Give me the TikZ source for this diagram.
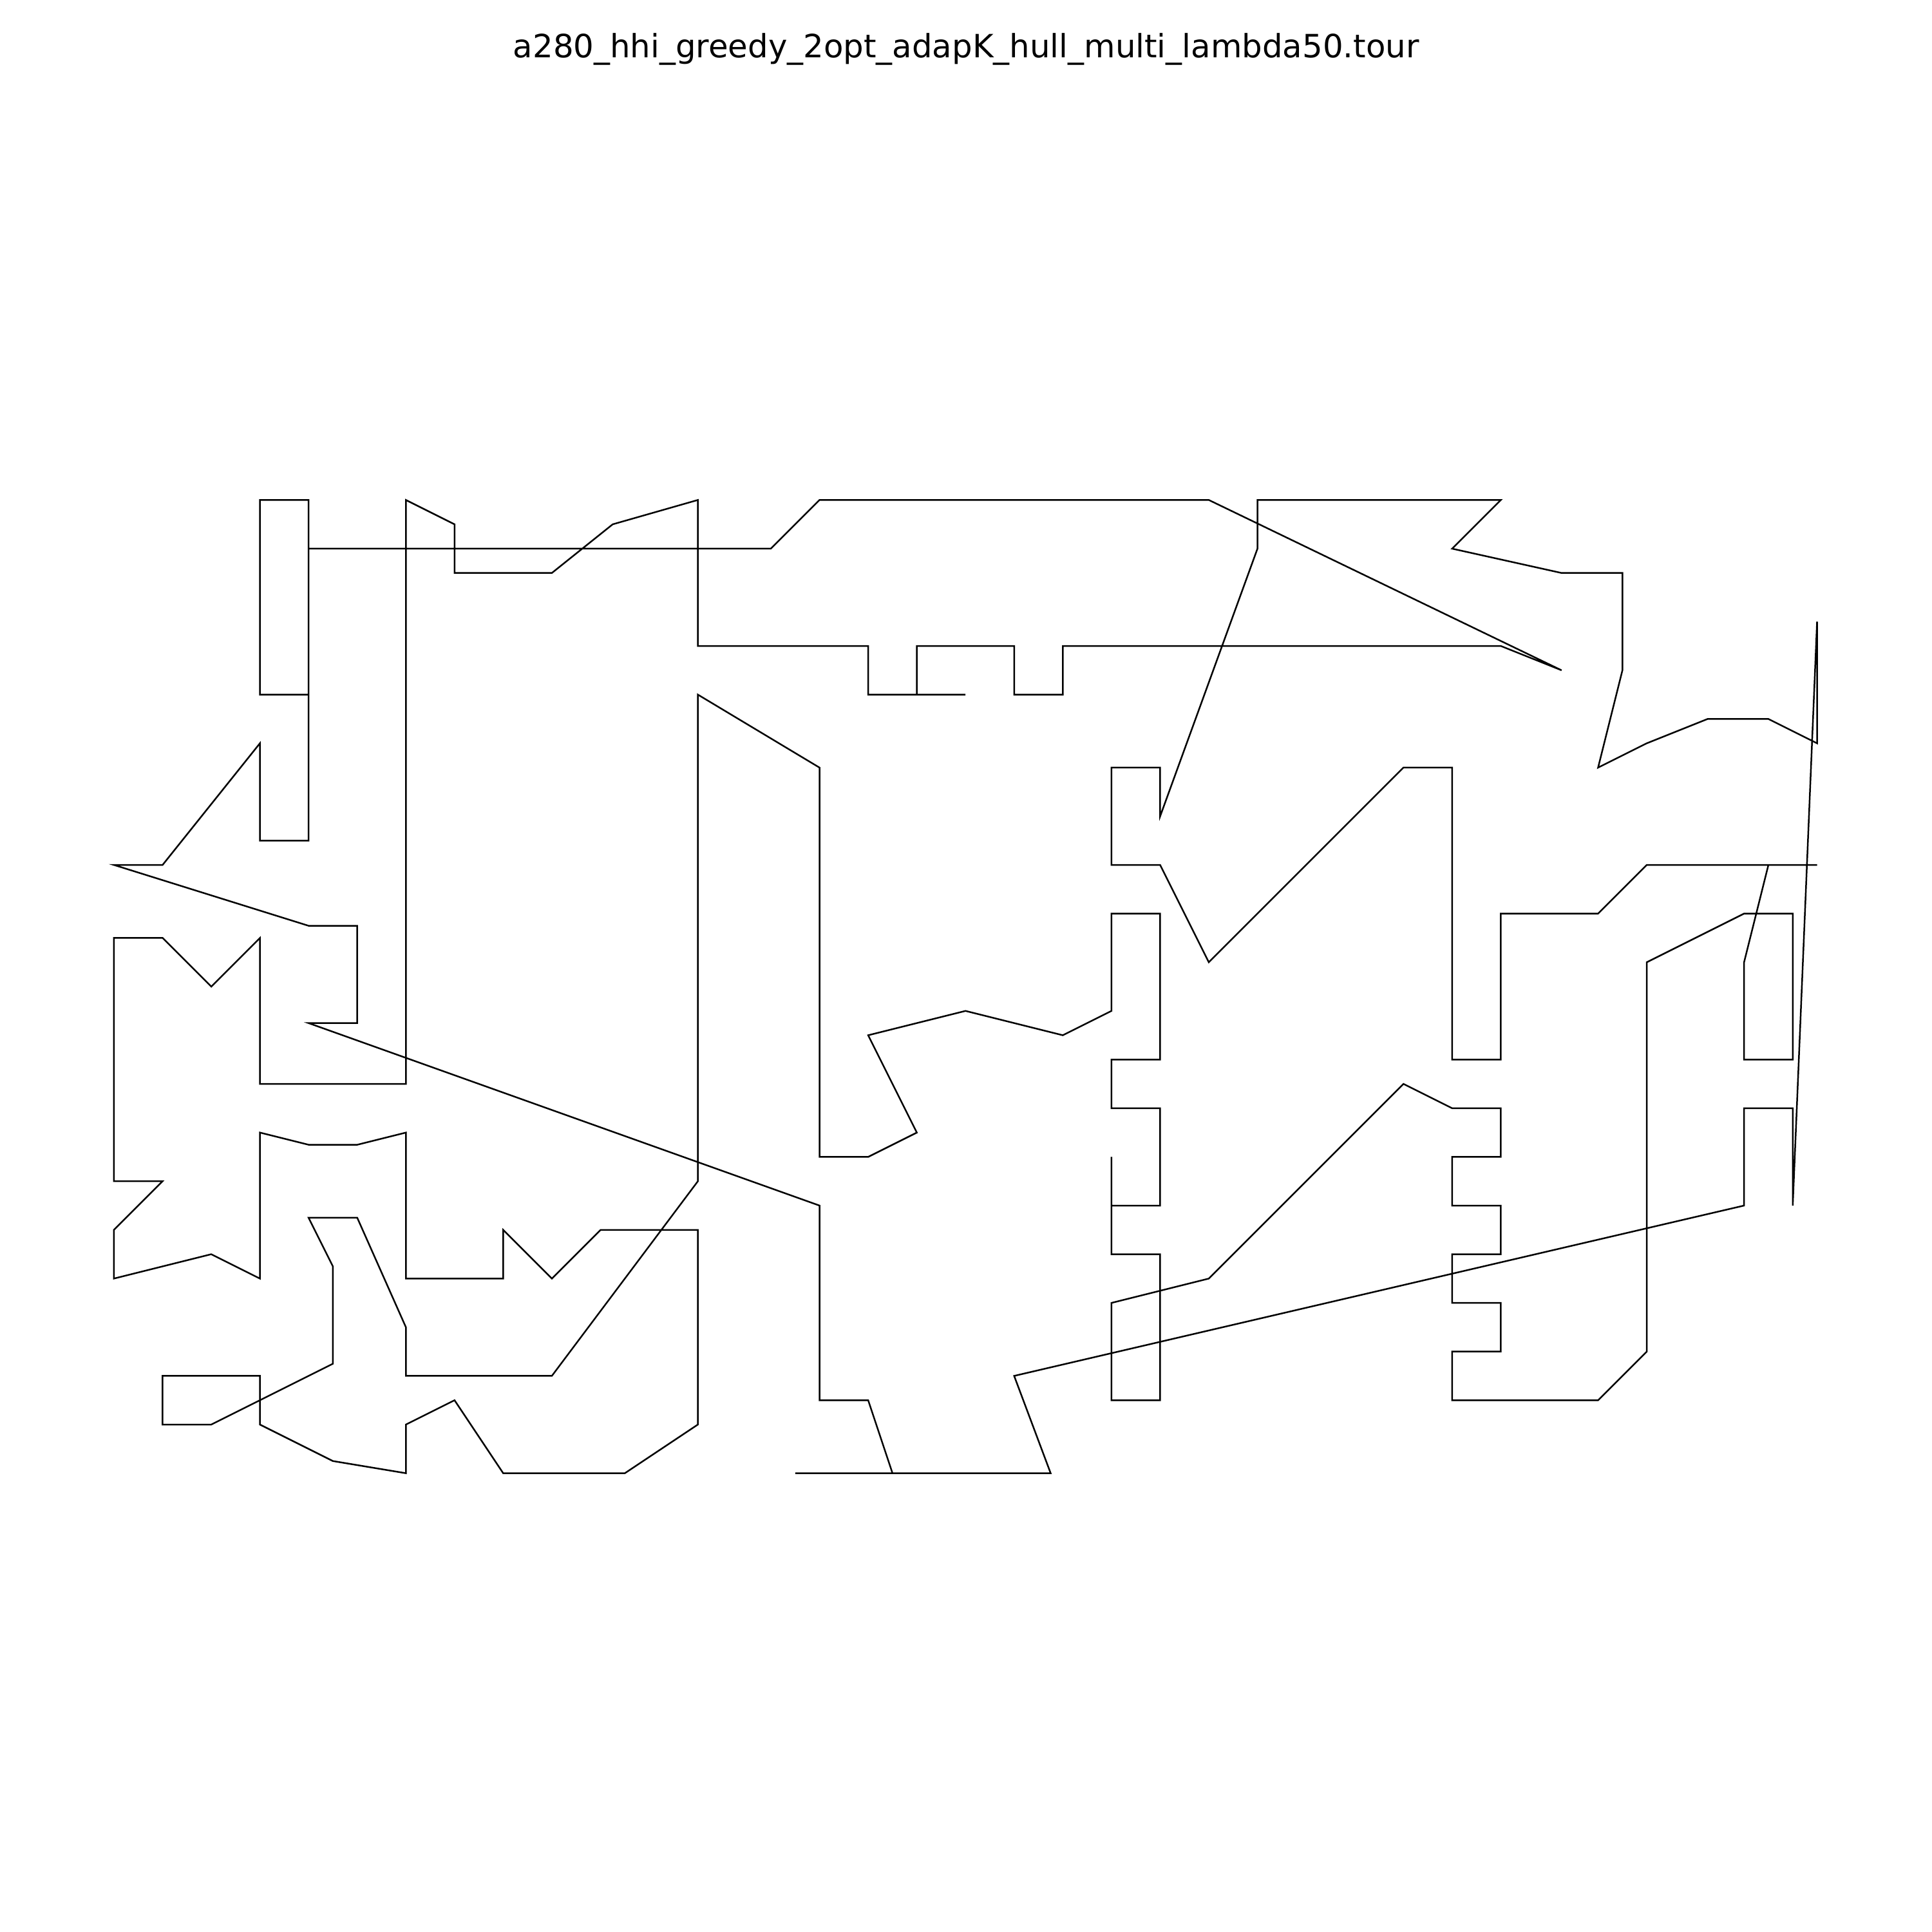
\documentclass[tikz,border=0pt]{standalone}
\usepackage{fontspec}
\setmainfont{DejaVu Sans}
\begin{document}
\begin{tikzpicture}[x=2.2753pt,y=2.2753pt,
  tour/.style={line width=0.6pt, line join=miter, draw=black},
  titletext/.style={anchor=base, inner sep=0pt, font=\fontsize{12}{14}\selectfont}]
\useasboundingbox (-10.73,-66.4) rectangle (306.9,251.2);
\node[titletext] (title) at (148.1,241.7) {a280\_hhi\_greedy\_2opt\_adapK\_hull\_multi\_lambda50.tour};
\draw[tour] (116,161) -- (124,169) -- (188,169) -- (246,141) -- (236,145) -- (164,145) -- (164,137) -- (156,137) -- (156,145) -- (140,145) -- (140,137) -- (148,137) -- (132,137) -- (132,145) -- (104,145) -- (104,169) -- (90,165) -- (80,157) -- (64,157) -- (64,165) -- (56,169) -- (56,73) -- (32,73) -- (32,97) -- (24,89) -- (16,97) -- (8,97) -- (8,57) -- (16,57) -- (8,49) -- (8,41) -- (24,45) -- (32,41) -- (32,65) -- (40,63) -- (48,63) -- (56,65) -- (56,41) -- (72,41) -- (72,49) -- (80,41) -- (88,49) -- (104,49) -- (104,17) -- (92,9) -- (72,9) -- (64,21) -- (56,17) -- (56,9) -- (44,11) -- (32,17) -- (32,25) -- (16,25) -- (16,17) -- (24,17) -- (44,27) -- (44,43) -- (40,51) -- (48,51) -- (56,33) -- (56,25) -- (80,25) -- (104,57) -- (104,137) -- (124,125) -- (124,61) -- (132,61) -- (140,65) -- (132,81) -- (148,85) -- (164,81) -- (172,85) -- (172,101) -- (180,101) -- (180,77) -- (172,77) -- (172,69) -- (180,69) -- (180,53) -- (172,53) -- (172,61) -- (172,45) -- (180,45) -- (180,21) -- (172,21) -- (172,37) -- (188,41) -- (220,73) -- (228,69) -- (236,69) -- (236,61) -- (228,61) -- (228,53) -- (236,53) -- (236,45) -- (228,45) -- (228,37) -- (236,37) -- (236,29) -- (228,29) -- (228,21) -- (252,21) -- (260,29) -- (260,93) -- (276,101) -- (284,101) -- (284,77) -- (276,77) -- (276,93) -- (280,109) -- (288,109) -- (260,109) -- (252,101) -- (236,101) -- (236,77) -- (228,77) -- (228,125) -- (220,125) -- (188,93) -- (180,109) -- (172,109) -- (172,125) -- (180,125) -- (180,117) -- (196,161) -- (196,169) -- (236,169) -- (228,161) -- (246,157) -- (256,157) -- (256,141) -- (252,125) -- (260,129) -- (270,133) -- (280,133) -- (288,129) -- (288,149) -- (284,53) -- (284,69) -- (276,69) -- (276,53) -- (156,25) -- (162,9) -- (120,9) -- (136,9) -- (132,21) -- (124,21) -- (124,53) -- (40,83) -- (48,83) -- (48,99) -- (40,99) -- (8,109) -- (16,109) -- (32,129) -- (32,113) -- (40,113) -- (40,169) -- (32,169) -- (32,137) -- (40,137) -- (40,161) -- cycle;
\end{tikzpicture}
\end{document}
